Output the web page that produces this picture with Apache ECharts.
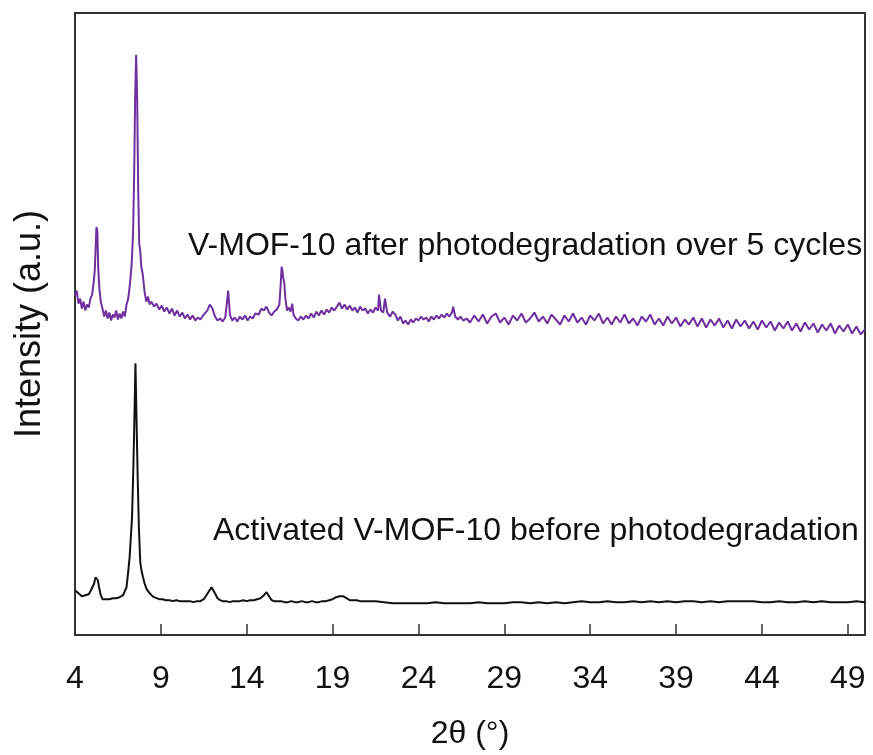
<!DOCTYPE html>
<html>
<head>
<meta charset="utf-8">
<script src="https://cdn.jsdelivr.net/npm/echarts@6/dist/echarts.min.js"></script>
<style>
html,body{margin:0;padding:0;background:#fff;}
#chart{width:873px;height:755px;}
</style>
</head>
<body>
<div id="chart"></div>
<script>
// 2θ ticks
var tickValues = [4, 9, 14, 19, 24, 29, 34, 39, 44, 49];

// V-MOF-10 after photodegradation over 5 cycles (purple), arbitrary units (offset)
var afterX = [4.00,4.10,4.20,4.30,4.40,4.50,4.60,4.70,4.80,4.90,5.00,5.08,5.15,5.20,5.25,5.30,5.35,5.42,5.50,5.60,5.70,5.80,5.90,6.00,6.10,6.20,6.30,6.40,6.50,6.60,6.70,6.80,6.90,7.00,7.10,7.20,7.30,7.38,7.45,7.50,7.56,7.62,7.68,7.74,7.80,7.86,7.94,8.05,8.15,8.25,8.35,8.45,8.60,8.75,8.90,9.05,9.20,9.35,9.50,9.65,9.80,9.95,10.10,10.25,10.40,10.55,10.70,10.85,11.00,11.15,11.30,11.50,11.70,11.85,12.00,12.15,12.30,12.45,12.60,12.75,12.85,12.92,12.97,13.02,13.15,13.30,13.45,13.60,13.75,13.90,14.05,14.20,14.35,14.50,14.70,14.85,15.00,15.15,15.30,15.45,15.60,15.75,15.90,15.98,16.03,16.08,16.13,16.18,16.25,16.35,16.45,16.55,16.65,16.72,16.85,17.00,17.15,17.30,17.45,17.60,17.75,17.90,18.05,18.20,18.35,18.50,18.65,18.80,18.95,19.10,19.25,19.40,19.55,19.70,19.85,20.00,20.15,20.30,20.45,20.60,20.75,20.90,21.05,21.20,21.35,21.50,21.65,21.70,21.76,21.82,21.95,22.05,22.12,22.18,22.35,22.50,22.65,22.80,22.95,23.10,23.25,23.40,23.55,23.70,23.85,24.00,24.15,24.30,24.45,24.60,24.75,24.90,25.05,25.20,25.35,25.50,25.65,25.80,25.95,26.02,26.08,26.14,26.30,26.45,26.60,26.80,27.00,27.25,27.50,27.75,28.00,28.25,28.50,28.75,29.00,29.25,29.50,29.75,30.00,30.25,30.50,30.75,31.00,31.25,31.50,31.75,32.00,32.25,32.50,32.75,33.00,33.25,33.50,33.75,34.00,34.25,34.50,34.75,35.00,35.25,35.50,35.75,36.00,36.25,36.50,36.75,37.00,37.25,37.50,37.75,38.00,38.25,38.50,38.75,39.00,39.25,39.50,39.75,40.00,40.25,40.50,40.75,41.00,41.25,41.50,41.75,42.00,42.25,42.50,42.75,43.00,43.25,43.50,43.75,44.00,44.25,44.50,44.75,45.00,45.25,45.50,45.75,46.00,46.25,46.50,46.75,47.00,47.25,47.50,47.75,48.00,48.25,48.50,48.75,49.00,49.25,49.50,49.75,50.00];
var afterY = [341,346,333,338,328,335,326,332,329,338,342,353,366,388,410,406,370,348,335,328,320,326,318,324,316,322,319,326,317,323,318,325,320,332,338,353,373,403,468,538,583,538,448,393,386,370,363,345,335,340,332,335,330,333,327,331,325,329,323,328,321,326,320,324,318,322,317,321,316,319,317,322,326,332,328,320,316,318,315,319,320,346,348,322,316,319,315,320,317,321,316,320,318,323,322,328,326,330,324,321,325,327,332,353,370,366,358,355,338,326,329,325,333,322,318,316,320,317,321,318,323,319,325,321,326,322,327,324,329,326,330,334,328,332,327,331,326,329,324,330,326,328,323,327,324,329,326,342,342,326,324,338,337,324,320,325,322,316,320,313,316,312,317,314,318,316,320,317,319,315,320,317,321,318,322,319,323,320,324,330,328,320,317,320,316,318,
  314,321,315,322,313,320,323,314,319,312,321,316,323,314,318,324,315,320,313,322,317,312,321,315,323,314,319,312,321,316,323,313,319,312,320,314,322,313,318,311,320,315,322,312,318,311,320,313,319,310,317,312,319,310,318,309,317,311,318,309,316,308,317,310,316,308,315,307,316,309,315,306,314,308,315,306,313,305,314,307,313,304,312,306,313,303,311,305,312,303,310,302,307];

// Activated V-MOF-10 before photodegradation (black)
var beforeX = [4.00,4.10,4.20,4.30,4.40,4.50,4.60,4.70,4.80,4.90,5.00,5.10,5.20,5.27,5.33,5.40,5.50,5.60,5.70,5.80,5.90,6.00,6.10,6.20,6.30,6.40,6.50,6.60,6.70,6.80,6.90,7.00,7.05,7.10,7.18,7.25,7.32,7.40,7.46,7.52,7.58,7.65,7.72,7.80,7.88,7.96,8.05,8.15,8.25,8.35,8.45,8.60,8.75,8.90,9.10,9.30,9.50,9.70,9.90,10.10,10.30,10.50,10.70,10.90,11.10,11.30,11.50,11.65,11.80,11.95,12.05,12.15,12.30,12.45,12.60,12.80,13.00,13.20,13.40,13.60,13.80,14.00,14.20,14.40,14.60,14.80,15.00,15.15,15.30,15.45,15.60,15.80,16.00,16.20,16.40,16.60,16.80,17.00,17.20,17.40,17.60,17.80,18.00,18.20,18.40,18.60,18.80,19.00,19.20,19.40,19.60,19.80,20.00,20.20,20.40,20.60,20.80,21.00,21.50,22.00,22.50,23.00,23.50,24.00,24.50,25.00,25.50,26.00,26.50,27.00,27.50,28.00,28.50,29.00,29.50,30.00,30.50,31.00,31.50,32.00,32.50,33.00,33.50,34.00,34.50,35.00,35.50,36.00,36.50,37.00,37.50,38.00,38.50,39.00,39.50,40.00,40.50,41.00,41.50,42.00,42.50,43.00,43.50,44.00,44.50,45.00,45.50,46.00,46.50,47.00,47.50,48.00,48.50,49.00,49.50,50.00];
var beforeY = [45,43,42,40,39,38,40,39,41,44,46,51,58,60,55,48,40,36,35,36,35,36,35,37,36,37,37,38,38,40,42,48,56,64,78,98,118,170,218,273,218,158,108,73,64,58,52,47,44,42,40,38,37,36,36,35,35,34,35,34,34,34,34,33,34,34,36,40,44,48,46,42,37,35,34,34,33,34,34,34,35,34,35,35,36,37,40,43,39,35,34,34,34,33,33,34,33,33,34,33,33,34,33,33,34,34,35,36,38,39,39,37,35,35,35,34,34,34,34,33,32,32,32,32,32,33,32,32,32,32,33,32,32,32,33,33,32,33,32,33,32,33,34,33,33,34,33,33,34,33,34,33,34,33,34,34,33,34,33,34,34,34,34,33,33,34,33,33,34,33,34,33,33,33,34,33];

var purple = '#7030A0';
var font = 'Liberation Sans, Arial, sans-serif';

function pairs(xs, ys){ var out=[]; for(var i=0;i<xs.length;i++){ out.push([xs[i], ys[i]]); } return out; }

var chart = echarts.init(document.getElementById('chart'), null, {renderer:'canvas'});
chart.setOption({
  animation: false,
  backgroundColor: '#fff',
  grid: {left: 75, right: 8, top: 13, bottom: 117, show: true, borderColor: '#333', borderWidth: 2, backgroundColor: 'transparent'},
  xAxis: {
    type: 'value', min: 4, max: 50,
    name: '2θ (°)', nameLocation: 'middle', nameGap: 83,
    nameTextStyle: {fontSize: 32, color: '#111', fontFamily: font},
    axisLine: {show: true, lineStyle: {color: '#333', width: 2}},
    axisTick: {show: true, inside: true, length: 11, lineStyle: {color: '#333', width: 1.5}, customValues: tickValues},
    axisLabel: {show: true, margin: 28, fontSize: 32, color: '#111', fontFamily: font, customValues: tickValues},
    splitLine: {show: false}
  },
  yAxis: {
    type: 'value', min: 0, max: 625,
    name: 'Intensity (a.u.)', nameLocation: 'middle', nameGap: 27,
    nameTextStyle: {fontSize: 36, color: '#111', fontFamily: font},
    axisLine: {show: true, lineStyle: {color: '#333', width: 2}},
    axisTick: {show: false}, axisLabel: {show: false}, splitLine: {show: false}
  },
  series: [
    {type: 'line', data: pairs(afterX, afterY), showSymbol: false, symbol: 'none', lineStyle: {color: purple, width: 2}, z: 3},
    {type: 'line', data: pairs(beforeX, beforeY), showSymbol: false, symbol: 'none', lineStyle: {color: '#111', width: 2}, z: 3}
  ],
  graphic: [
    {type: 'text', left: 188, top: 230, style: {text: 'V-MOF-10 after photodegradation over 5 cycles', fontSize: 32, fontFamily: font, fill: '#111'}},
    {type: 'text', left: 213, top: 515, style: {text: 'Activated V-MOF-10 before photodegradation', fontSize: 32, fontFamily: font, fill: '#111'}}
  ]
});
</script>
</body>
</html>
